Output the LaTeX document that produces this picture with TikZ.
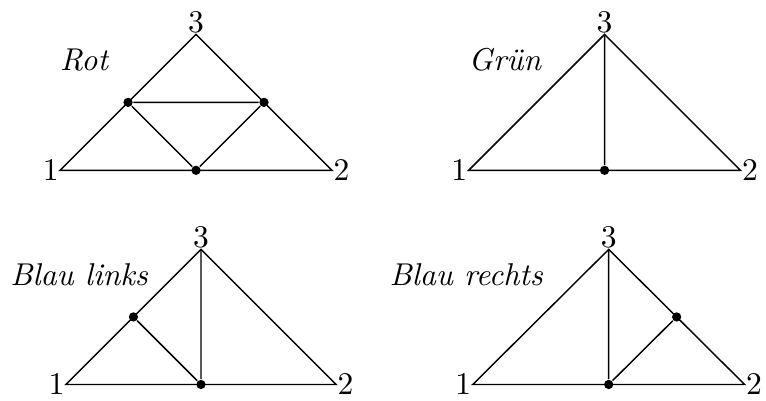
\documentclass[tikz,border=0pt]{standalone}
\usepackage{tikz}
\usetikzlibrary{calc, positioning}

\begin{document}
\begin{tikzpicture}[every node/.style={font=\fontsize{10.9}{13}\selectfont}, line width=0.5pt,
    dot/.style={circle, fill, inner sep=0pt, minimum size=3.2pt},
    num/.style={inner sep=0.3pt}, title/.style={font=\fontsize{10.9}{13}\selectfont\itshape}]
    \useasboundingbox (0,0) rectangle (9.3,4.868);

    % Rot
    \begin{scope}[shift={(0.73,2.80)}]
        \coordinate (r1) at (0,0);
        \coordinate (r2) at (3.3,0);
        \coordinate (r3) at (1.65,1.65);
        \draw (r1) -- (r2) -- (r3) -- cycle;
        \node[dot] (r12) at ($(r1)!0.5!(r2)$) {};
        \node[dot] (r13) at ($(r1)!0.5!(r3)$) {};
        \node[dot] (r23) at ($(r2)!0.5!(r3)$) {};
        \draw (r13) -- (r23) -- (r12) -- (r13);
        \node[num, left] (r1l) at (r1) {1};
        \node[num, right] (r2l) at (r2) {2};
        \node[num, above] (r3l) at (r3) {3};
        \node[title] (rot) at (0.29,1.34) {Rot};
    \end{scope}

    % Gruen
    \begin{scope}[shift={(5.69,2.80)}]
        \coordinate (g1) at (0,0);
        \coordinate (g2) at (3.3,0);
        \coordinate (g3) at (1.65,1.65);
        \draw (g1) -- (g2) -- (g3) -- cycle;
        \node[dot] (g12) at ($(g1)!0.5!(g2)$) {};
        \draw (g3) -- (g12);
        \node[num, left] (g1l) at (g1) {1};
        \node[num, right] (g2l) at (g2) {2};
        \node[num, above] (g3l) at (g3) {3};
        \node[title] (gruen) at (0.44,1.34) {Grün};
    \end{scope}

    % Blau links
    \begin{scope}[shift={(0.80,0.20)}]
        \coordinate (bl1) at (0,0);
        \coordinate (bl2) at (3.28,0);
        \coordinate (bl3) at (1.64,1.64);
        \draw (bl1) -- (bl2) -- (bl3) -- cycle;
        \node[dot] (bl12) at ($(bl1)!0.5!(bl2)$) {};
        \node[dot] (bl13) at ($(bl1)!0.5!(bl3)$) {};
        \draw (bl3) -- (bl12) -- (bl13);
        \node[num, left] (bl1l) at (bl1) {1};
        \node[num, right] (bl2l) at (bl2) {2};
        \node[num, above] (bl3l) at (bl3) {3};
        \node[title] (blaul) at (0.16,1.33) {Blau links};
    \end{scope}

    % Blau rechts
    \begin{scope}[shift={(5.74,0.20)}]
        \coordinate (br1) at (0,0);
        \coordinate (br2) at (3.3,0);
        \coordinate (br3) at (1.65,1.64);
        \draw (br1) -- (br2) -- (br3) -- cycle;
        \node[dot] (br12) at ($(br1)!0.5!(br2)$) {};
        \node[dot] (br23) at ($(br2)!0.5!(br3)$) {};
        \draw (br3) -- (br12) -- (br23);
        \node[num, left] (br1l) at (br1) {1};
        \node[num, right] (br2l) at (br2) {2};
        \node[num, above] (br3l) at (br3) {3};
        \node[title] (blaur) at (-0.08,1.33) {Blau rechts};
    \end{scope}
\end{tikzpicture}
\end{document}
